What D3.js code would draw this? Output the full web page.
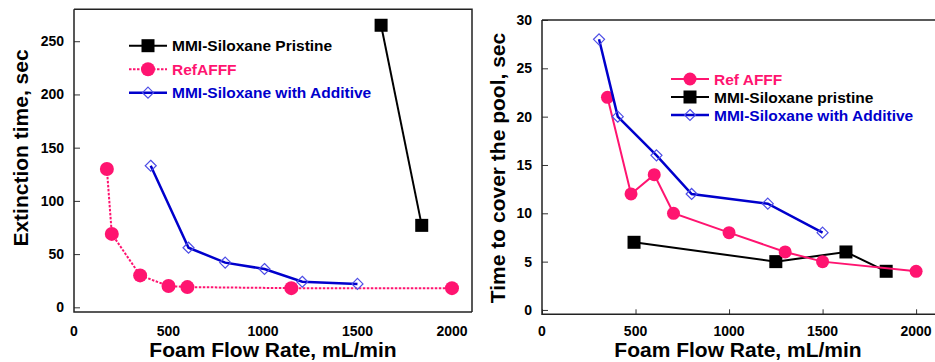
<!DOCTYPE html>
<html>
<head>
<meta charset="utf-8">
<script src="https://cdnjs.cloudflare.com/ajax/libs/d3/7.8.5/d3.min.js"></script>
<style>
  body { margin: 0; background: #fff; }
  svg text { font-family: "Liberation Sans", Arial, sans-serif; font-weight: bold; }
</style>
</head>
<body>
<svg id="chart" width="935" height="362"></svg>
<script>
// ---- data: extinction time (left panel) ----
var extPristineX = [1625, 1840];
var extPristineY = [265, 77];
var extRefX = [174, 200, 350, 500, 600, 1150, 2000];
var extRefY = [130, 69, 30, 20, 19, 18, 18];
var extAddX = [406, 606, 800, 1008, 1208, 1500];
var extAddY = [133, 56, 42, 36, 24, 22];

// ---- data: time to cover the pool (right panel) ----
var covRefX = [350, 476, 600, 703, 1000, 1300, 1500, 2000];
var covRefY = [22, 12, 14, 10, 8, 6, 5, 4];
var covPristineX = [492, 1250, 1625, 1840];
var covPristineY = [7, 5, 6, 4];
var covAddX = [305, 405, 612, 800, 1207, 1500];
var covAddY = [28, 20, 16, 12, 11, 8];

var xTicks = [0, 500, 1000, 1500, 2000];
var extTicks = [0, 50, 100, 150, 200, 250];
var covTicks = [0, 5, 10, 15, 20, 25, 30];

var pink = "#ff1470", blue = "#0000cc", diamondEdge = "#4d4de6";

var svg = d3.select("#chart");

function zip(xs, ys) { return xs.map(function(d, i) { return [d, ys[i]]; }); }

// draw one series: line + markers
function series(g, x, y, pts, opt) {
    var line = d3.line().x(function(d) { return x(d[0]); }).y(function(d) { return y(d[1]); });
    g.append("path")
        .attr("d", line(pts))
        .attr("fill", "none")
        .attr("stroke", opt.color)
        .attr("stroke-width", opt.width)
        .attr("stroke-dasharray", opt.dash || null);
    pts.forEach(function(d) { marker(g, x(d[0]), y(d[1]), opt); });
}

function marker(g, cx, cy, opt) {
    if (opt.shape === "circle") {
        g.append("circle").attr("cx", cx).attr("cy", cy).attr("r", opt.size)
            .attr("fill", opt.color);
    } else if (opt.shape === "square") {
        g.append("rect").attr("x", cx - opt.size).attr("y", cy - opt.size)
            .attr("width", opt.size * 2).attr("height", opt.size * 2)
            .attr("fill", "#000");
    } else {
        var s = opt.size;
        g.append("path")
            .attr("d", "M" + cx + "," + (cy - s) + "L" + (cx + s) + "," + cy + "L" + cx + "," + (cy + s) + "L" + (cx - s) + "," + cy + "Z")
            .attr("fill", "none").attr("stroke", diamondEdge).attr("stroke-width", 1.2);
    }
}

function legend(g, x0, y0, dy, items) {
    items.forEach(function(it, i) {
        var yy = y0 + i * dy;
        g.append("line").attr("x1", x0).attr("x2", x0 + 38).attr("y1", yy).attr("y2", yy)
            .attr("stroke", it.color).attr("stroke-width", it.width)
            .attr("stroke-dasharray", it.dash || null);
        marker(g, x0 + 19, yy, it);
        g.append("text").attr("x", x0 + 43).attr("y", yy).attr("dy", "0.36em")
            .attr("font-size", "15.5px").attr("fill", it.text).text(it.label);
    });
}

// panel frame, axes and tick labels
function panel(opt) {
    var g = svg.append("g");
    var x = d3.scaleLinear().domain(opt.xDomain).range(opt.xRange);
    var y = d3.scaleLinear().domain(opt.yDomain).range(opt.yRange);

    var yAxis = d3.axisRight(y).tickValues(opt.yTicks).tickSize(6).tickFormat("");
    g.append("g").attr("transform", "translate(" + opt.xRange[0] + ",0)").call(yAxis)
        .call(function(a) { a.select(".domain").remove(); a.selectAll("line").attr("stroke", "#333"); });

    if (opt.xTickMarks) {
        var xAxis = d3.axisTop(x).tickValues(xTicks).tickSize(5).tickFormat("");
        g.append("g").attr("transform", "translate(0," + opt.yRange[0] + ")").call(xAxis)
            .call(function(a) { a.select(".domain").remove(); a.selectAll("line").attr("stroke", "#333"); });
    }

    // tick labels
    g.selectAll(".yl").data(opt.yTicks).enter().append("text")
        .attr("x", opt.xRange[0] - 10).attr("y", function(d) { return y(d); }).attr("dy", "0.36em")
        .attr("text-anchor", "end").attr("font-size", "14px").text(function(d) { return d; });
    g.selectAll(".xl").data(xTicks).enter().append("text")
        .attr("x", function(d) { return x(d); }).attr("y", 331).attr("dy", "0.36em")
        .attr("text-anchor", "middle").attr("font-size", "14px").text(function(d) { return d; });

    // frame lines
    var f = d3.path();
    f.moveTo(opt.xRange[0], opt.yRange[1]);
    f.lineTo(opt.xRange[0], opt.yRange[0]);
    f.lineTo(opt.xRange[1], opt.yRange[0]);
    g.append("path").attr("d", f.toString()).attr("fill", "none").attr("stroke", "#222").attr("stroke-width", 1.5);
    var t = d3.path();
    t.moveTo(opt.xRange[0], opt.yRange[1]);
    t.lineTo(opt.xRange[1], opt.yRange[1]);
    if (opt.rightEdge) t.lineTo(opt.xRange[1], opt.yRange[0]);
    g.append("path").attr("d", t.toString()).attr("fill", "none").attr("stroke", "#222").attr("stroke-width", 1.5);

    // axis titles
    g.append("text").attr("x", opt.xTitleX).attr("y", 357).attr("text-anchor", "middle")
        .attr("font-size", "21px").text("Foam Flow Rate, mL/min");
    g.append("text").attr("transform", "translate(" + opt.yTitleX + "," + opt.yTitleY + ") rotate(-90)")
        .attr("text-anchor", "middle").attr("font-size", "21px").text(opt.yTitle);

    return { g: g, x: x, y: y };
}

// ---- left panel ----
var L = panel({
    xDomain: [0, 2106], xRange: [74, 472],
    yDomain: [-4.4, 280], yRange: [312, 9.3],
    yTicks: extTicks, xTickMarks: false, rightEdge: true,
    xTitleX: 273, yTitleX: 28, yTitleY: 148,
    yTitle: "Extinction time, sec"
});
var refL = { shape: "circle", size: 7, color: pink, width: 2, dash: "2.5,1.5", text: pink, label: "RefAFFF" };
var priL = { shape: "square", size: 6.5, color: "#000", width: 2, text: "#000", label: "MMI-Siloxane Pristine" };
var addL = { shape: "diamond", size: 5.5, color: blue, width: 2.5, text: blue, label: "MMI-Siloxane with Additive" };
series(L.g, L.x, L.y, zip(extRefX, extRefY), refL);
series(L.g, L.x, L.y, zip(extAddX, extAddY), addL);
series(L.g, L.x, L.y, zip(extPristineX, extPristineY), priL);
legend(L.g, 129, 45.7, 23.5, [priL, refL, addL]);

// ---- right panel ----
var R = panel({
    xDomain: [0, 2101], xRange: [542, 935],
    yDomain: [-0.45, 30], yRange: [314.3, 20],
    yTicks: covTicks, xTickMarks: true, rightEdge: false,
    xTitleX: 738, yTitleX: 505, yTitleY: 168,
    yTitle: "Time to cover the pool, sec"
});
var refR = { shape: "circle", size: 6.5, color: pink, width: 2, text: pink, label: "Ref AFFF" };
var priR = { shape: "square", size: 6.5, color: "#000", width: 2, text: "#000", label: "MMI-Siloxane pristine" };
var addR = { shape: "diamond", size: 5.5, color: blue, width: 2.5, text: blue, label: "MMI-Siloxane with Additive" };
series(R.g, R.x, R.y, zip(covPristineX, covPristineY), priR);
series(R.g, R.x, R.y, zip(covRefX, covRefY), refR);
series(R.g, R.x, R.y, zip(covAddX, covAddY), addR);
legend(R.g, 671, 79, 18, [refR, priR, addR]);
</script>
</body>
</html>
